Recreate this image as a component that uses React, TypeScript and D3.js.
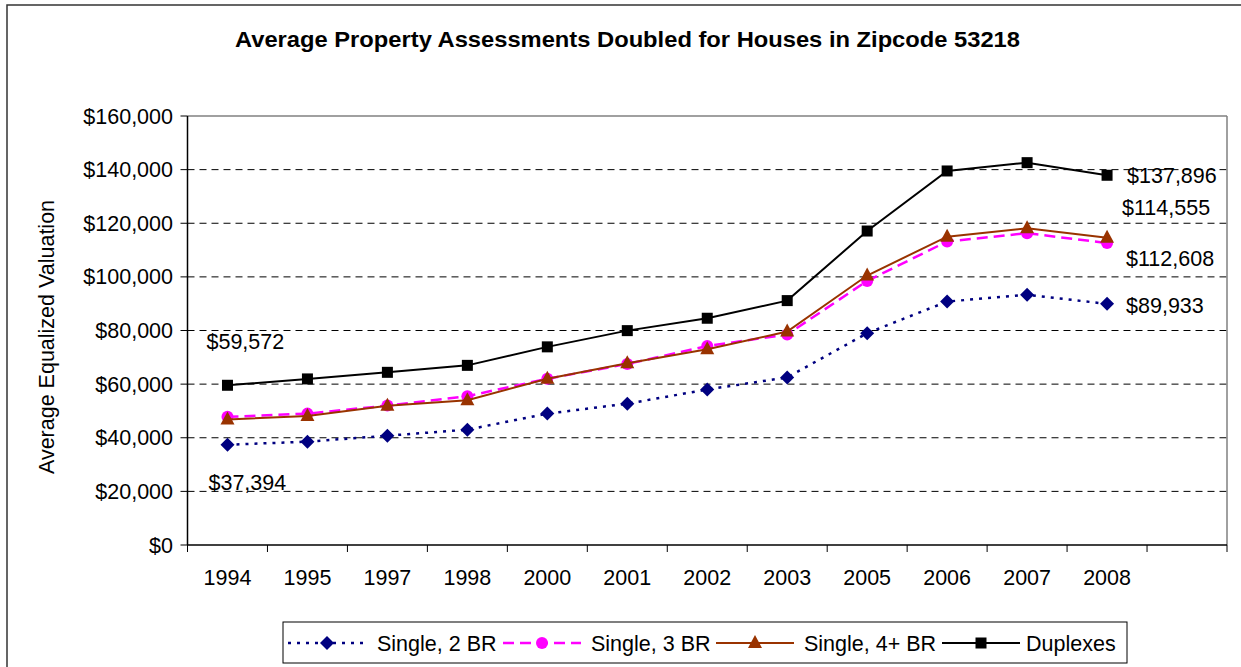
import React from "react";
import * as d3 from "d3";

const years = ["1994","1995","1997","1998","2000","2001","2002","2003","2005","2006","2007","2008"];
const single2 = [37394,38540,40780,43000,49000,52700,58000,62500,79000,90800,93300,89933];
const single3 = [47800,49000,52000,55500,62000,67500,74200,78500,98500,113200,116300,112608];
const single4 = [46800,48100,51900,54000,62000,67800,73000,79600,100500,115000,118100,114555];
const duplexes = [59572,61940,64400,67000,73900,79950,84570,91150,117100,139500,142600,137896];
const yTicks = [0,20000,40000,60000,80000,100000,120000,140000,160000];
const seriesNames = ["Single, 2 BR","Single, 3 BR","Single, 4+ BR","Duplexes"];

const W = 1241, H = 667;
const FONT = "'Liberation Sans', Arial, sans-serif";
const left = 187.5, right = 1227, top = 116, bottom = 545;

type Style = { color: string; dash?: string; width: number; marker: string };
const styles: Style[] = [
  { color: "#000080", dash: "3,6", width: 2.5, marker: "diamond" },
  { color: "#FF00FF", dash: "11,6", width: 2.5, marker: "circle" },
  { color: "#993300", width: 2, marker: "triangle" },
  { color: "#000000", width: 2, marker: "square" },
];

function Marker({ kind, x, y, color }: { kind: string; x: number; y: number; color: string }) {
  if (kind === "diamond") {
    const r = 7;
    return <path d={`M${x},${y - r}L${x + r},${y}L${x},${y + r}L${x - r},${y}Z`} fill={color} />;
  }
  if (kind === "circle") return <circle cx={x} cy={y} r={6} fill={color} />;
  if (kind === "triangle") {
    return <path d={`M${x},${y - 8}L${x + 7},${y + 5}L${x - 7},${y + 5}Z`} fill={color} />;
  }
  return <rect x={x - 5.5} y={y - 5.5} width={11} height={11} fill={color} />;
}

export default function App() {
  const slots = [...years, ""];
  const x = d3.scaleBand<string>().domain(slots.map((s, i) => s || "_" + i)).range([left, right]).padding(0);
  const cx = (i: number) => (x(slots[i] || "_" + i) as number) + x.bandwidth() / 2;
  const y = d3.scaleLinear().domain([0, 160000]).range([bottom, top]);
  const fmt = (v: number) => "$" + d3.format(",")(v);
  const data = [single2, single3, single4, duplexes];
  const line = (vals: number[]) =>
    d3.line<number>().x((_, i) => cx(i)).y((v) => y(v))(vals) as string;

  const tickXs = slots.map((_, i) => x(slots[i] || "_" + i) as number).concat([right]);
  const last = years.length - 1;

  const legendItems = [
    { lx: 288, tx: 377 },
    { lx: 503, tx: 591 },
    { lx: 716, tx: 804 },
    { lx: 942, tx: 1026 },
  ];

  return (
    <svg width={W} height={H} style={{ position: "absolute", left: 0, top: 0, background: "#fff" }} fontFamily={FONT}>
      <rect x={0} y={0} width={W} height={H} fill="#fff" />
      <rect x={7} y={5} width={W + 20} height={H + 20} fill="none" stroke="#333" strokeWidth={1.5} />
      <text x={235} y={47} textLength={785} lengthAdjust="spacingAndGlyphs" fontSize={22} fontWeight="bold" fill="#000">
        Average Property Assessments Doubled for Houses in Zipcode 53218
      </text>
      {yTicks.filter((t) => t > 0 && t < 160000).map((t) => (
        <line key={t} x1={left} x2={right} y1={y(t)} y2={y(t)} stroke="#000" strokeWidth={1} strokeDasharray="7,5" />
      ))}
      <line x1={left} x2={right} y1={top} y2={top} stroke="#808080" strokeWidth={1.5} />
      <line x1={right} x2={right} y1={top} y2={bottom} stroke="#808080" strokeWidth={1.5} />
      <line x1={left} x2={left} y1={top} y2={bottom} stroke="#000" strokeWidth={1.5} />
      <line x1={left} x2={right} y1={bottom} y2={bottom} stroke="#000" strokeWidth={1.5} />
      {yTicks.map((t) => (
        <g key={t}>
          <line x1={left - 7} x2={left} y1={y(t)} y2={y(t)} stroke="#000" strokeWidth={1} />
          <text x={173} y={y(t)} dy="0.35em" textAnchor="end" fontSize={21.5} fill="#000">
            {fmt(t)}
          </text>
        </g>
      ))}
      {tickXs.map((tx, i) => (
        <line key={i} x1={tx} x2={tx} y1={bottom} y2={bottom + 7} stroke="#000" strokeWidth={1} />
      ))}
      {years.map((yr, i) => (
        <text key={yr} x={cx(i)} y={585} textAnchor="middle" fontSize={21.5} fill="#000">
          {yr}
        </text>
      ))}
      <text transform={`translate(54,337) rotate(-90)`} textAnchor="middle" fontSize={21.5} fill="#000">
        Average Equalized Valuation
      </text>
      {data.map((vals, si) => (
        <g key={si}>
          <path d={line(vals)} fill="none" stroke={styles[si].color} strokeWidth={styles[si].width} strokeDasharray={styles[si].dash} />
          {vals.map((v, i) => (
            <Marker key={i} kind={styles[si].marker} x={cx(i)} y={y(v)} color={styles[si].color} />
          ))}
        </g>
      ))}
      <text x={cx(0) - 21} y={y(duplexes[0]) - 44} dy="0.35em" fontSize={21.5} fill="#000">{fmt(duplexes[0])}</text>
      <text x={cx(0) - 19} y={y(single2[0]) + 38} dy="0.35em" fontSize={21.5} fill="#000">{fmt(single2[0])}</text>
      <text x={cx(last) + 20} y={y(duplexes[last])} dy="0.35em" fontSize={21.5} fill="#000">{fmt(duplexes[last])}</text>
      <text x={cx(last) + 15} y={y(single4[last]) - 30} dy="0.35em" fontSize={21.5} fill="#000">{fmt(single4[last])}</text>
      <text x={cx(last) + 19} y={y(single3[last]) + 15} dy="0.35em" fontSize={21.5} fill="#000">{fmt(single3[last])}</text>
      <text x={cx(last) + 19} y={y(single2[last]) + 2} dy="0.35em" fontSize={21.5} fill="#000">{fmt(single2[last])}</text>
      <rect x={283} y={622} width={844} height={41} fill="#fff" stroke="#000" strokeWidth={1} />
      {legendItems.map((it, si) => (
        <g key={si}>
          <line x1={it.lx} x2={it.lx + 78} y1={643} y2={643} stroke={styles[si].color} strokeWidth={styles[si].width} strokeDasharray={styles[si].dash} />
          <Marker kind={styles[si].marker} x={it.lx + 39} y={643} color={styles[si].color} />
          <text x={it.tx} y={643} dy="0.35em" fontSize={21.5} fill="#000">{seriesNames[si]}</text>
        </g>
      ))}
    </svg>
  );
}
